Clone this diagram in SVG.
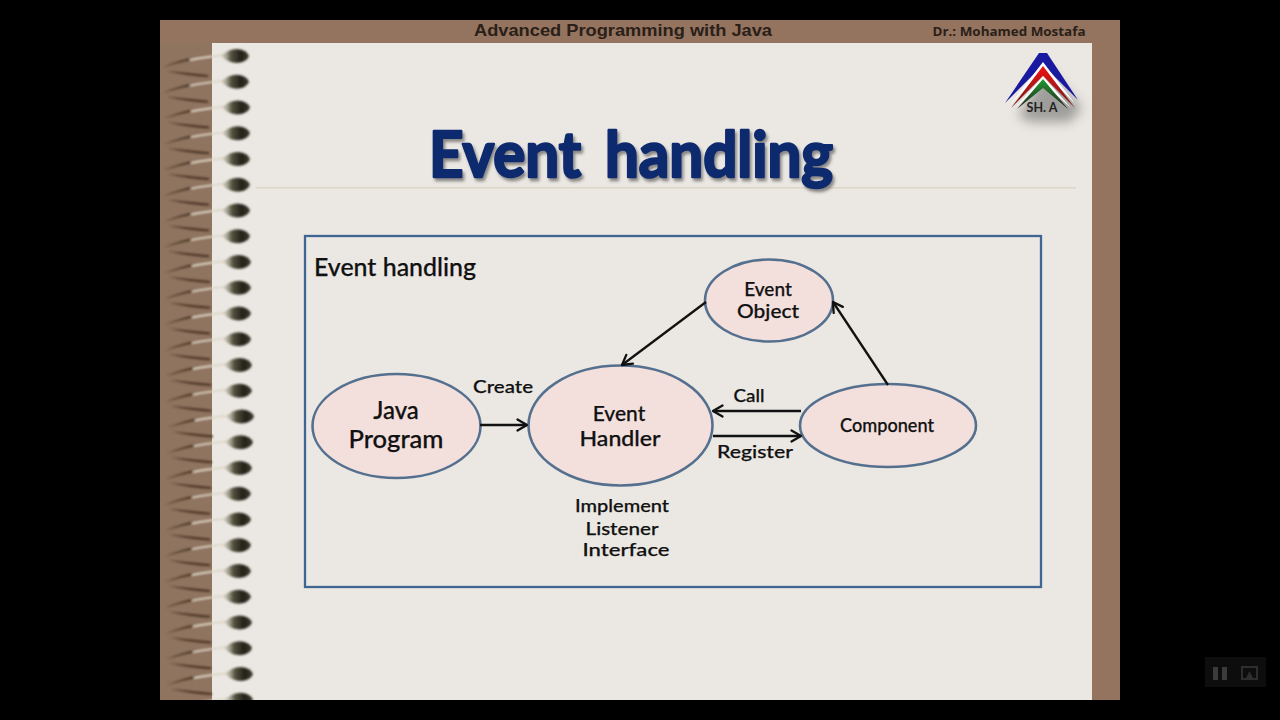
<svg xmlns="http://www.w3.org/2000/svg" xmlns:xlink="http://www.w3.org/1999/xlink" width="1280" height="720" viewBox="0 0 1280 720">
<style>
.n{fill:#f3e0dd;stroke:#55708f;stroke-width:2.6}
.t{font-family:"Lato","Open Sans",sans-serif;fill:#111;text-anchor:middle;font-weight:500;stroke:#111;stroke-width:.25}
.c{stroke:#111;stroke-width:2.3;fill:none;marker-end:url(#a)}
</style>
<defs>
<marker id="a" markerUnits="userSpaceOnUse" markerWidth="16" markerHeight="16" refX="13" refY="8" orient="auto"><path d="M3.500 2.500L13 8L3.500 13.500" fill="none" stroke="#111" stroke-width="2.300" stroke-linejoin="round" stroke-linecap="round"/></marker>
<filter id="b1" x="-20%" y="-20%" width="140%" height="140%"><feGaussianBlur stdDeviation="0.8"/></filter>
<filter id="b2" x="-40%" y="-40%" width="180%" height="180%"><feGaussianBlur stdDeviation="6"/></filter>
<filter id="b3"><feGaussianBlur stdDeviation="0.6"/></filter>
<filter id="ts" x="-5%" y="-10%" width="110%" height="125%"><feDropShadow dx="2" dy="3" stdDeviation="1.6" flood-color="#444" flood-opacity=".6"/></filter>
<linearGradient id="gr" x1="0" y1="0" x2="0" y2="1"><stop offset="0" stop-color="#f01212"/><stop offset="1" stop-color="#701818"/></linearGradient>
<linearGradient id="gg" x1="0" y1="0" x2="0" y2="1"><stop offset="0" stop-color="#1f9a30"/><stop offset="1" stop-color="#222"/></linearGradient>
<linearGradient id="rg" x1="0" y1="0" x2="1" y2="0"><stop offset="0" stop-color="#c4c2b0" stop-opacity=".4"/><stop offset=".35" stop-color="#55533f"/><stop offset=".7" stop-color="#24221a"/><stop offset="1" stop-color="#3c3a2c"/></linearGradient>
<g id="ring" filter="url(#b1)">
<path d="M163 67Q180 60 192 58L192 60Q180 62 163 67Z" fill="#4a3522"/>
<path d="M190 60Q205 57 226 55" stroke="#ded6c6" stroke-width="1.800" fill="none"/>
<path d="M167 71Q188 73 208 75L208 77Q188 76 167 71Z" fill="#4a3322"/>
<path d="M221 56Q228 49 237 49Q247 50 249 56Q247 62 237 63Q228 63 221 56Z" fill="url(#rg)"/>
</g>
<clipPath id="page"><rect x="160" y="20" width="960" height="680"/></clipPath>
</defs>
<rect width="1280" height="720" fill="#000"/>
<rect x="160" y="20" width="960" height="680" fill="#94735f"/>
<rect x="160" y="43" width="52" height="657" fill="#8f7460"/>
<rect x="212" y="43" width="880" height="657" fill="#ebe8e3"/>
<rect x="256" y="187" width="820" height="1.5" fill="#ddd6c6"/>
<g id="rings" clip-path="url(#page)">
<use xlink:href="#ring"/>
<use xlink:href="#ring" y="25.7" x="0"/>
<use xlink:href="#ring" y="51.5" x="1"/>
<use xlink:href="#ring" y="77.2" x="1"/>
<use xlink:href="#ring" y="103" x="1"/>
<use xlink:href="#ring" y="128.7" x="1"/>
<use xlink:href="#ring" y="154.5" x="1"/>
<use xlink:href="#ring" y="180.2" x="1"/>
<use xlink:href="#ring" y="206" x="2"/>
<use xlink:href="#ring" y="231.7" x="2"/>
<use xlink:href="#ring" y="257.5" x="2"/>
<use xlink:href="#ring" y="283.2" x="2"/>
<use xlink:href="#ring" y="309" x="3"/>
<use xlink:href="#ring" y="334.7" x="3"/>
<use xlink:href="#ring" y="360.5" x="5"/>
<use xlink:href="#ring" y="386.2" x="4"/>
<use xlink:href="#ring" y="412" x="3"/>
<use xlink:href="#ring" y="437.7" x="2"/>
<use xlink:href="#ring" y="463.5" x="2"/>
<use xlink:href="#ring" y="489.2" x="2"/>
<use xlink:href="#ring" y="515" x="2"/>
<use xlink:href="#ring" y="540.7" x="2"/>
<use xlink:href="#ring" y="566.5" x="3"/>
<use xlink:href="#ring" y="592.2" x="3"/>
<use xlink:href="#ring" y="618" x="4"/>
<use xlink:href="#ring" y="643.7" x="4"/>
</g>
<text x="623" y="36" font-family="Liberation Sans,sans-serif" font-size="17" font-weight="700" fill="#2a2018" text-anchor="middle" textLength="298" lengthAdjust="spacingAndGlyphs">Advanced Programming with Java</text>
<text x="1009" y="36" font-family="Open Sans,sans-serif" font-size="13" font-weight="700" fill="#2a2018" text-anchor="middle" textLength="153" lengthAdjust="spacingAndGlyphs">Dr.: Mohamed Mostafa</text>
<g id="logo">
<path d="M1018 116L1046 70L1082 108L1070 122H1030Z" fill="#555" opacity=".5" filter="url(#b2)"/>
<path d="M1005 103L1039 53H1047L1078 100L1043 65Z" fill="#1a1aa0"/>
<path d="M1009 106L1043 62L1076 105L1043 70Z" fill="#fff"/>
<path d="M1011 108L1043 66L1075 108L1043 76Z" fill="url(#gr)"/>
<path d="M1015 108L1043 76L1071 108L1043 83Z" fill="#fff"/>
<path d="M1017 109L1043 79L1068 109L1043 88Z" fill="url(#gg)"/>
<text x="1042" y="112" font-family="Lato,Open Sans,sans-serif" font-size="12.500" font-weight="700" fill="#222" text-anchor="middle">SH. A</text>
</g>
<text x="631" y="177" font-family="Lato,Open Sans,sans-serif" font-size="64" font-weight="700" fill="#0c2a6e" stroke="#0c2a6e" stroke-width="2.500" stroke-linejoin="round" text-anchor="middle" textLength="404" lengthAdjust="spacingAndGlyphs" word-spacing="10" filter="url(#ts)">Event handling</text>
<rect x="305" y="236" width="736" height="351" fill="#ebe8e3" stroke="#3f6592" stroke-width="2.300"/>
<text class="t" x="395" y="276" font-size="24" textLength="162" lengthAdjust="spacingAndGlyphs" font-weight="400">Event handling</text>
<g id="java-program"><ellipse class="n" cx="396.500" cy="426" rx="84" ry="52"/>
<text class="t" x="396" y="419" font-size="24">Java</text><text class="t" x="396" y="448" font-size="24" textLength="95" lengthAdjust="spacingAndGlyphs">Program</text></g>
<g id="event-handler"><ellipse class="n" cx="620.500" cy="425.500" rx="92" ry="60"/>
<text class="t" x="619" y="421" font-size="21">Event</text><text class="t" x="620" y="446" font-size="21" textLength="81" lengthAdjust="spacingAndGlyphs">Handler</text></g>
<g id="event-object"><ellipse class="n" cx="769" cy="300.500" rx="64" ry="41"/>
<text class="t" x="768" y="296" font-size="19">Event</text><text class="t" x="768" y="318" font-size="19" textLength="62" lengthAdjust="spacingAndGlyphs">Object</text></g>
<g id="component"><ellipse class="n" cx="888" cy="425.500" rx="88" ry="41.500"/>
<text class="t" x="887" y="432" font-size="19" textLength="94" lengthAdjust="spacingAndGlyphs">Component</text></g>
<g id="connectors">
<path class="c" d="M480 425H527"/>
<path class="c" d="M706 302L622 365"/>
<path class="c" d="M888 385L833 302"/>
<path class="c" d="M801 411H713"/>
<path class="c" d="M713 436H801"/>
</g>
<g id="labels">
<text class="t" x="503" y="393" font-size="18" textLength="60" lengthAdjust="spacingAndGlyphs">Create</text>
<text class="t" x="749" y="402" font-size="18" textLength="31" lengthAdjust="spacingAndGlyphs">Call</text>
<text class="t" x="755" y="458" font-size="18" textLength="76" lengthAdjust="spacingAndGlyphs">Register</text>
<text class="t" x="622" y="512" font-size="18" textLength="94" lengthAdjust="spacingAndGlyphs">Implement</text>
<text class="t" x="622" y="535" font-size="18" textLength="73" lengthAdjust="spacingAndGlyphs">Listener</text>
<text class="t" x="626" y="556" font-size="18" textLength="87" lengthAdjust="spacingAndGlyphs">Interface</text>
</g>
<g id="player" filter="url(#b3)"><rect x="1205" y="657" width="61" height="30" fill="#0b0b0b"/><rect x="1213" y="667" width="5" height="13" fill="#3a3a3a"/><rect x="1222" y="667" width="5" height="13" fill="#3a3a3a"/><rect x="1242" y="667" width="15" height="12" fill="none" stroke="#2e2e2e" stroke-width="2"/><path d="M1246 678L1249.500 671L1253 678Z" fill="#2e2e2e"/></g>
</svg>
